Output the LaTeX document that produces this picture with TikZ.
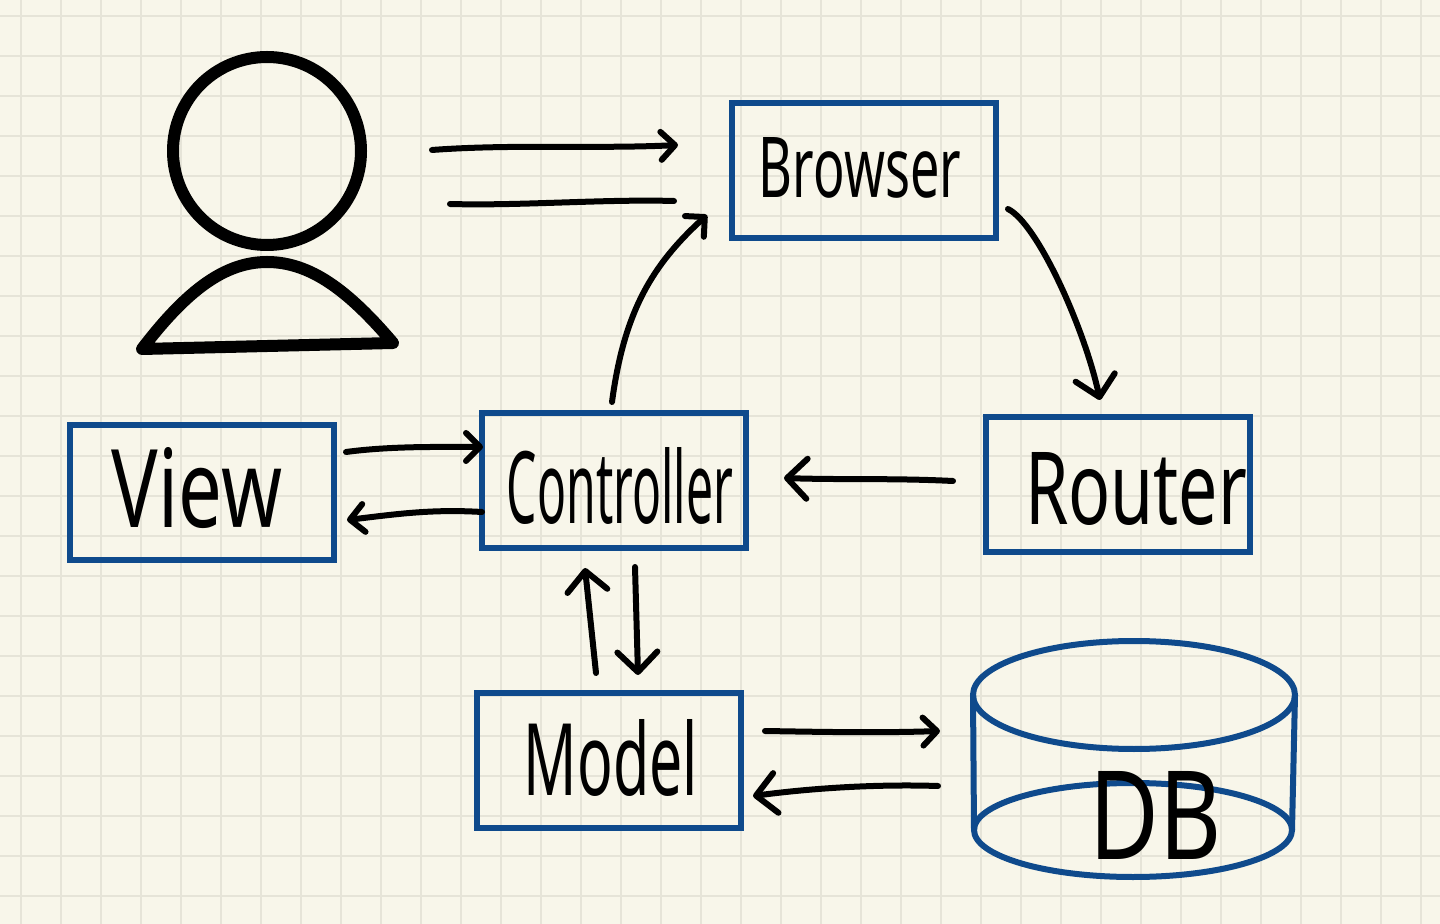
\documentclass[tikz,border=0pt]{standalone}
\usepackage{fontspec}
\setmainfont{Noto Sans}
\usetikzlibrary{arrows.meta,shapes.geometric,positioning}
\definecolor{paper}{HTML}{F8F6EA}
\definecolor{gridline}{HTML}{E6E4D8}
\definecolor{boxblue}{HTML}{0F4A8C}
\newcommand{\hand}[3]{\resizebox{#1pt}{#2pt}{#3}}
\tikzset{
	pen/.style={line width=3pt,line cap=round,line join=round,black},
	thickpen/.style={line width=6pt,line cap=round,line join=round,black},
	box/.style={draw=boxblue,line width=3pt,minimum width=132pt,minimum height=67.5pt,inner sep=0pt,outer sep=0pt},
	dbring/.style={ellipse,draw=boxblue,line width=3pt,inner sep=0pt,outer sep=0pt},
	word/.style={inner sep=0pt,outer sep=0pt,black},
	smallhead/.style={-{Straight Barb[round,length=7pt,width=14pt]}},
	bighead/.style={-{Straight Barb[round,length=10pt,width=20pt]}}
}
\begin{document}
\begin{tikzpicture}[x=0.5pt,y=-0.5pt]
	\fill[paper] (0,0) rectangle (1440,924);
	\useasboundingbox (0,0) rectangle (1440,924);
	% squared paper
	\foreach \gx in {21,61,...,1421} {
		\draw[gridline,line width=0.7pt] (\gx,0) -- (\gx,924);
	}
	\foreach \gy in {16,56,...,896} {
		\draw[gridline,line width=0.7pt] (0,\gy) -- (1440,\gy);
	}
	% person
	\node[circle,draw=black,line width=6pt,minimum size=94pt,inner sep=0pt,outer sep=0pt] (head) at (267,151) {};
	\draw[thickpen] (142,349) .. controls (187,290) and (225,262) .. (267,262)
		.. controls (310,262) and (348,290) .. (393,343) -- cycle;
	% boxes
	\node[box] (browser) at (864,170.5) {};
	\node[box] (controller) at (614,480.5) {};
	\node[box] (router) at (1118,484.5) {};
	\node[box] (view) at (202,492.5) {};
	\node[box] (model) at (609,760.5) {};
	% database
	\node[dbring,minimum width=161pt,minimum height=54pt] (dbtop) at (1134,695) {};
	\node[dbring,minimum width=159pt,minimum height=47pt] (dbbase) at (1133,830) {};
	\draw[boxblue,line width=3pt] (dbtop.west) -- (dbbase.west);
	\draw[boxblue,line width=3pt] (dbtop.east) -- (dbbase.east);
	\coordinate (dbleft) at (973,762);
	% words
	\node[word] (browsertext) at (860,168) {\hand{101}{30}{Browser}};
	\node[word] (controllertext) at (620,486) {\hand{113}{38}{Controller}};
	\node[word] (routertext) at (1136,489) {\hand{111}{36}{Router}};
	\node[word] (viewtext) at (197,488) {\hand{85}{40}{View}};
	\node[word] (modeltext) at (611,758) {\hand{87}{38}{Model}};
	\node[word] (dbtext) at (1156,815) {\hand{66}{44}{DB}};
	% arrows
	\draw[pen,smallhead] ([shift={(71,-1)}]head.east) .. controls +(80,-6) and +(-80,4) .. ([shift={(-54,-25.5)}]browser.west);
	\draw[pen] ([shift={(89,53)}]head.east) .. controls +(70,2) and +(-70,-2) .. ([shift={(-58,30.5)}]browser.west);
	\draw[pen,smallhead] ([shift={(-2,-11)}]controller.north) .. controls +(12,-90) and +(-55,50) .. ([shift={(-25,44.5)}]browser.west);
	\draw[pen,bighead] ([shift={(12,38.5)}]browser.east) .. controls +(30,15) and +(-15,-70) .. ([shift={(-18,-17)}]router.north);
	\draw[pen,bighead] ([shift={(-33,-3.5)}]router.west) .. controls +(-60,-3) and +(60,2) .. ([shift={(38,-2.5)}]controller.east);
	\draw[pen,smallhead] ([shift={(12,-40.5)}]view.east) .. controls +(45,-6) and +(-45,0) .. ([shift={(1,-33.5)}]controller.west);
	\draw[pen,smallhead] ([shift={(0,31.5)}]controller.west) .. controls +(-50,-3) and +(50,-6) .. ([shift={(13,27.5)}]view.east);
	\draw[pen,bighead] ([shift={(-13,-20)}]model.north) -- ([shift={(-29,20)}]controller.south);
	\draw[pen,bighead] ([shift={(21,19)}]controller.south) -- ([shift={(29,-18)}]model.north);
	\draw[pen,smallhead] ([shift={(24,-29.5)}]model.east) .. controls +(60,1) and +(-60,2) .. ([shift={(-33,-31)}]dbleft);
	\draw[pen,bighead] ([shift={(-35,24)}]dbleft) .. controls +(-60,-2) and +(60,-8) .. ([shift={(12,35.5)}]model.east);
\end{tikzpicture}
\end{document}
